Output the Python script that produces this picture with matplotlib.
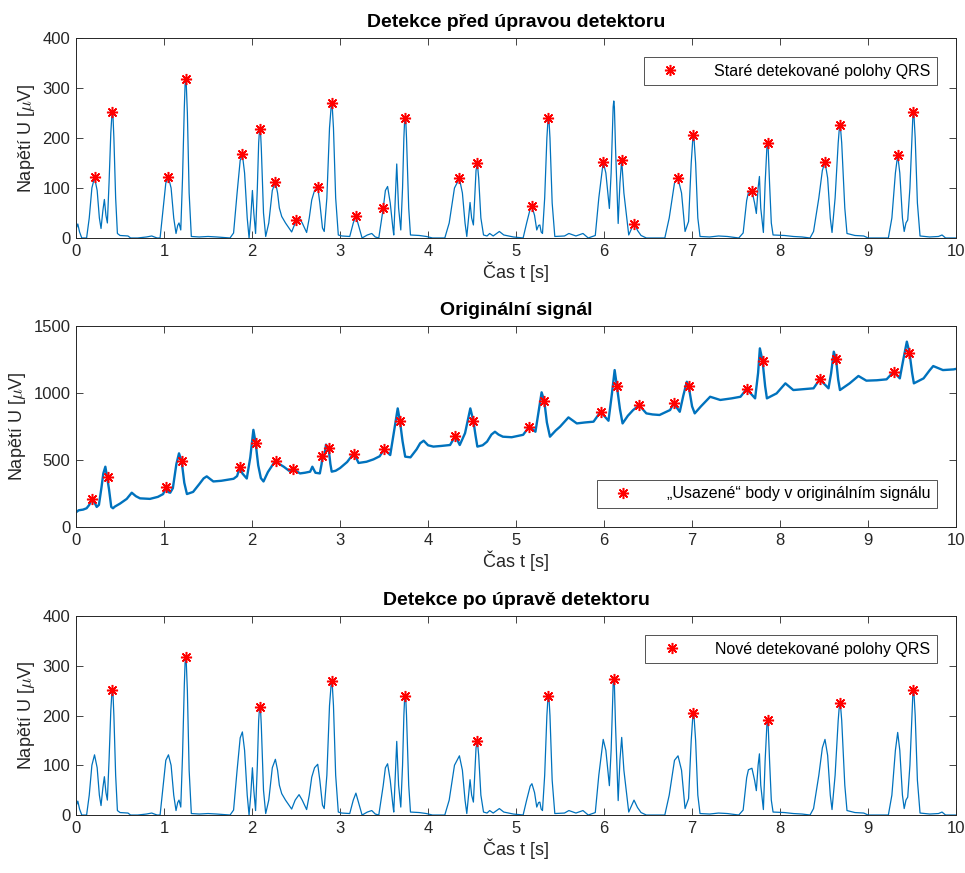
import matplotlib.pyplot as plt

plt.rcParams['font.family'] = ['Liberation Sans', 'DejaVu Sans']
plt.rcParams['mathtext.fontset'] = 'cm'

# filtrovany signal (pouzit v hornim i dolnim grafu)
filt_t = [0.00, 0.02, 0.04, 0.065, 0.12, 0.15, 0.18, 0.21, 0.24, 0.265, 0.284, 0.305, 0.322, 0.34,
          0.356, 0.375, 0.395, 0.406, 0.413, 0.42, 0.43, 0.45, 0.47, 0.50, 0.59, 0.62, 0.70, 0.80,
          0.86, 0.92, 0.955, 0.99, 1.02, 1.05, 1.08, 1.11, 1.136, 1.155, 1.17, 1.19, 1.21, 1.23,
          1.239, 1.246, 1.253, 1.265, 1.285, 1.31, 1.40, 1.50, 1.60, 1.75, 1.79, 1.83, 1.865, 1.89,
          1.915, 1.945, 1.966, 1.985, 2.004, 2.02, 2.04, 2.06, 2.075, 2.083, 2.09, 2.097, 2.105, 2.13,
          2.155, 2.19, 2.23, 2.265, 2.29, 2.31, 2.337, 2.38, 2.45, 2.49, 2.534, 2.57, 2.62, 2.65,
          2.678, 2.71, 2.746, 2.77, 2.80, 2.82, 2.85, 2.88, 2.898, 2.905, 2.912, 2.925, 2.95, 2.98,
          3.02, 3.11, 3.15, 3.18, 3.21, 3.25, 3.31, 3.36, 3.40, 3.44, 3.49, 3.515, 3.54, 3.57,
          3.60, 3.61, 3.625, 3.644, 3.665, 3.69, 3.71, 3.725, 3.733, 3.74, 3.747, 3.755, 3.78, 3.80,
          3.90, 3.98, 4.05, 4.19, 4.24, 4.30, 4.356, 4.39, 4.42, 4.44, 4.46, 4.477, 4.495, 4.515,
          4.53, 4.545, 4.56, 4.575, 4.60, 4.63, 4.67, 4.70, 4.74, 4.81, 4.86, 4.97, 5.08, 5.12,
          5.16, 5.18, 5.21, 5.235, 5.255, 5.27, 5.285, 5.30, 5.325, 5.35, 5.361, 5.368, 5.375, 5.385,
          5.41, 5.44, 5.55, 5.60, 5.68, 5.76, 5.82, 5.90, 5.94, 5.99, 6.02, 6.06, 6.08, 6.103,
          6.11, 6.117, 6.13, 6.16, 6.18, 6.20, 6.225, 6.28, 6.34, 6.38, 6.42, 6.48, 6.69, 6.74,
          6.80, 6.84, 6.88, 6.92, 6.96, 6.99, 7.008, 7.015, 7.022, 7.04, 7.065, 7.09, 7.20, 7.30,
          7.40, 7.53, 7.58, 7.62, 7.64, 7.68, 7.71, 7.73, 7.75, 7.765, 7.78, 7.81, 7.83, 7.85,
          7.857, 7.864, 7.88, 7.90, 7.92, 8.05, 8.15, 8.25, 8.34, 8.38, 8.44, 8.48, 8.51, 8.54,
          8.57, 8.59, 8.625, 8.66, 8.673, 8.68, 8.687, 8.70, 8.735, 8.76, 8.85, 8.95, 9.00, 9.23,
          9.27, 9.31, 9.336, 9.36, 9.39, 9.41, 9.43, 9.45, 9.475, 9.50, 9.508, 9.515, 9.522, 9.535,
          9.56, 9.59, 9.70, 9.80, 9.84, 9.88, 10.0]
filt_v = [18, 28, 12, 0, 0, 40, 100, 121, 95, 40, 19, 55, 77, 45,
          30, 110, 210, 242, 251, 243, 200, 80, 9, 5, 4, 0, 0, 2,
          4, 0, 0, 60, 110, 121, 100, 40, 9, 25, 30, 16, 120, 260,
          306, 317, 305, 250, 90, 3, 2, 3, 2, 0, 10, 90, 155, 167,
          130, 40, 0, 40, 95, 50, 9, 100, 190, 211, 218, 210, 180, 50,
          3, 30, 95, 112, 90, 60, 43, 30, 12, 30, 41, 30, 11, 40,
          76, 95, 102, 70, 20, 13, 80, 220, 261, 270, 260, 220, 80, 6,
          4, 3, 30, 44, 25, 0, 6, 9, 2, 0, 59, 95, 103, 70,
          20, 6, 70, 148, 60, 16, 100, 200, 233, 241, 233, 200, 60, 6,
          5, 3, 0, 0, 30, 100, 119, 90, 30, 3, 40, 71, 40, 26,
          80, 135, 149, 120, 40, 6, 4, 9, 4, 13, 6, 2, 0, 30,
          58, 63, 45, 16, 25, 26, 12, 9, 80, 200, 232, 240, 232, 200,
          70, 3, 4, 9, 4, 9, 0, 5, 80, 152, 130, 59, 130, 262,
          274, 262, 180, 29, 110, 156, 90, 6, 30, 15, 5, 0, 0, 40,
          110, 119, 90, 13, 33, 150, 198, 206, 198, 150, 40, 3, 2, 4,
          3, 0, 10, 75, 91, 94, 70, 49, 100, 123, 60, 11, 110, 182,
          190, 182, 110, 30, 6, 5, 3, 2, 0, 13, 80, 135, 152, 120,
          40, 11, 80, 190, 219, 226, 219, 190, 60, 9, 5, 4, 0, 0,
          40, 130, 166, 130, 40, 13, 30, 36, 100, 210, 242, 251, 242, 200,
          70, 4, 2, 3, 6, 0, 0]

# stare detekce (horni graf)
old_t = [0.21, 0.413, 1.05, 1.246, 1.89, 2.09, 2.265, 2.50, 2.746, 2.905, 3.18, 3.49, 3.74, 4.356,
         4.56, 5.18, 5.368, 5.99, 6.20, 6.34, 6.84, 7.015, 7.68, 7.857, 8.51, 8.68, 9.336, 9.515]
old_v = [121, 251, 121, 317, 167, 218, 112, 35, 102, 270, 44, 59, 240, 119,
         149, 63, 240, 152, 156, 28, 119, 206, 94, 190, 152, 226, 166, 251]

# originalni signal
orig_t = [0.00, 0.03, 0.08, 0.12, 0.15, 0.18, 0.20, 0.235, 0.26, 0.29, 0.31, 0.333, 0.356, 0.375,
          0.40, 0.42, 0.44, 0.50, 0.576, 0.633, 0.68, 0.727, 0.84, 0.93, 0.99, 1.02, 1.05, 1.07,
          1.10, 1.14, 1.17, 1.20, 1.23, 1.26, 1.33, 1.40, 1.45, 1.485, 1.56, 1.65, 1.79, 1.83,
          1.86, 1.89, 1.94, 1.98, 2.015, 2.04, 2.07, 2.10, 2.13, 2.18, 2.24, 2.27, 2.31, 2.36,
          2.42, 2.47, 2.545, 2.60, 2.66, 2.685, 2.72, 2.77, 2.79, 2.80, 2.82, 2.84, 2.87, 2.89,
          2.905, 2.95, 3.00, 3.08, 3.15, 3.16, 3.21, 3.30, 3.38, 3.45, 3.50, 3.57, 3.61, 3.655,
          3.68, 3.71, 3.74, 3.80, 3.87, 3.91, 3.95, 4.00, 4.06, 4.15, 4.25, 4.31, 4.36, 4.42,
          4.48, 4.515, 4.54, 4.56, 4.62, 4.67, 4.72, 4.76, 4.80, 4.85, 4.95, 5.08, 5.15, 5.22,
          5.26, 5.29, 5.32, 5.35, 5.385, 5.45, 5.50, 5.595, 5.69, 5.78, 5.88, 5.96, 6.05, 6.09,
          6.12, 6.145, 6.18, 6.21, 6.27, 6.33, 6.40, 6.48, 6.55, 6.63, 6.75, 6.79, 6.86, 6.90,
          6.94, 6.96, 7.00, 7.03, 7.10, 7.205, 7.32, 7.45, 7.55, 7.62, 7.716, 7.75, 7.77, 7.80,
          7.83, 7.85, 7.96, 8.06, 8.15, 8.25, 8.38, 8.45, 8.55, 8.58, 8.61, 8.636, 8.66, 8.68,
          8.79, 8.89, 8.98, 9.10, 9.21, 9.29, 9.36, 9.40, 9.44, 9.47, 9.50, 9.52, 9.63, 9.70,
          9.74, 9.85, 9.97, 10.0]
orig_v = [110, 125, 130, 140, 165, 210, 195, 150, 165, 300, 400, 450, 360, 280,
          150, 140, 152, 175, 210, 256, 230, 214, 210, 225, 246, 295, 260, 256,
          290, 470, 550, 490, 330, 246, 262, 320, 363, 378, 340, 345, 360, 380,
          445, 400, 362, 520, 725, 630, 460, 365, 340, 410, 470, 495, 470, 450,
          420, 430, 400, 405, 413, 450, 405, 400, 470, 530, 520, 615, 587, 470,
          413, 420, 440, 485, 545, 548, 478, 487, 505, 528, 580, 537, 700, 885,
          793, 640, 525, 520, 580, 625, 644, 610, 600, 605, 612, 680, 612, 700,
          885, 791, 680, 600, 610, 637, 690, 711, 690, 674, 670, 688, 749, 711,
          880, 1005, 943, 780, 674, 720, 749, 818, 773, 780, 786, 860, 793, 1000,
          1171, 1054, 880, 773, 830, 873, 908, 848, 840, 836, 873, 923, 860, 980,
          1084, 1054, 900, 848, 900, 972, 948, 960, 972, 1030, 960, 1150, 1333, 1241,
          1050, 960, 997, 1072, 1022, 1028, 1035, 1102, 1035, 1150, 1308, 1251, 1100, 1022,
          1072, 1127, 1092, 1095, 1102, 1159, 1109, 1250, 1383, 1301, 1150, 1072, 1109, 1170,
          1201, 1171, 1176, 1180]

# "usazene" body v originalnim signalu
set_t = [0.18, 0.36, 1.02, 1.20, 1.86, 2.04, 2.27, 2.47, 2.80, 2.87, 3.16, 3.50, 3.68, 4.31,
         4.515, 5.15, 5.32, 5.96, 6.145, 6.40, 6.79, 6.96, 7.62, 7.80, 8.45, 8.636, 9.29, 9.47]
set_v = [206, 370, 301, 490, 450, 624, 495, 433, 530, 587, 545, 584, 793, 681,
         791, 749, 943, 860, 1054, 908, 923, 1054, 1030, 1241, 1102, 1251, 1159, 1301]

# nove detekce (dolni graf)
new_t = [0.413, 1.246, 2.09, 2.905, 3.74, 4.56, 5.368, 6.11, 7.015, 7.857, 8.68, 9.515]
new_v = [251, 317, 218, 270, 240, 149, 240, 274, 206, 190, 226, 251]

BLUE = "#0072BD"
GRAY = "#262626"
STAR = (8, 2, 0)  # asterisk jako v MATLABu

fig = plt.figure(figsize=(9.65, 8.73), dpi=100)
left, width = 0.0788, 0.912
ax1 = fig.add_axes([left, 0.7274, width, 0.2291])
ax2 = fig.add_axes([left, 0.3963, width, 0.2303])
ax3 = fig.add_axes([left, 0.0664, width, 0.2280])


def style(ax, ylim, yticks, title):
    ax.set_xlim(0, 10)
    ax.set_ylim(*ylim)
    ax.set_xticks(range(0, 11))
    ax.set_yticks(yticks)
    ax.tick_params(direction="in", top=True, right=True, length=5, width=0.6,
                   labelsize=12, colors=GRAY, pad=4)
    for s in ax.spines.values():
        s.set_color(GRAY)
        s.set_linewidth(0.7)
    ax.set_xlabel("Čas t [s]", fontsize=13, color=GRAY, labelpad=2)
    ax.set_ylabel(r"Napětí U [$\mu$V]", fontsize=13, color=GRAY, labelpad=4)
    ax.set_title(title, fontsize=14, fontweight="bold", pad=8)


def legend(ax, loc):
    leg = ax.legend(loc=loc, fontsize=11.5, frameon=True, fancybox=False, borderaxespad=1.2,
                    handletextpad=1.5, handlelength=2.5, borderpad=0.4)
    leg.get_frame().set_edgecolor(GRAY)
    leg.get_frame().set_linewidth(0.7)


def stars(ax, t, v, label):
    ax.plot(t, v, linestyle="none", marker=STAR, color="red", mec="red", ms=8, mew=1.1,
            label=label)


# horni graf
ax1.plot(filt_t, filt_v, color=BLUE, lw=0.9, solid_joinstyle="round")
stars(ax1, old_t, old_v, "Staré detekované polohy QRS")
style(ax1, (0, 400), [0, 100, 200, 300, 400], "Detekce před úpravou detektoru")
legend(ax1, "upper right")

# prostredni graf
ax2.plot(orig_t, orig_v, color=BLUE, lw=1.7, solid_joinstyle="round")
stars(ax2, set_t, set_v, "„Usazené“ body v originálním signálu")
style(ax2, (0, 1500), [0, 500, 1000, 1500], "Originální signál")
legend(ax2, "lower right")

# dolni graf
ax3.plot(filt_t, filt_v, color=BLUE, lw=0.9, solid_joinstyle="round")
stars(ax3, new_t, new_v, "Nové detekované polohy QRS")
style(ax3, (0, 400), [0, 100, 200, 300, 400], "Detekce po úpravě detektoru")
legend(ax3, "upper right")

fig.savefig("out.png", dpi=100)
